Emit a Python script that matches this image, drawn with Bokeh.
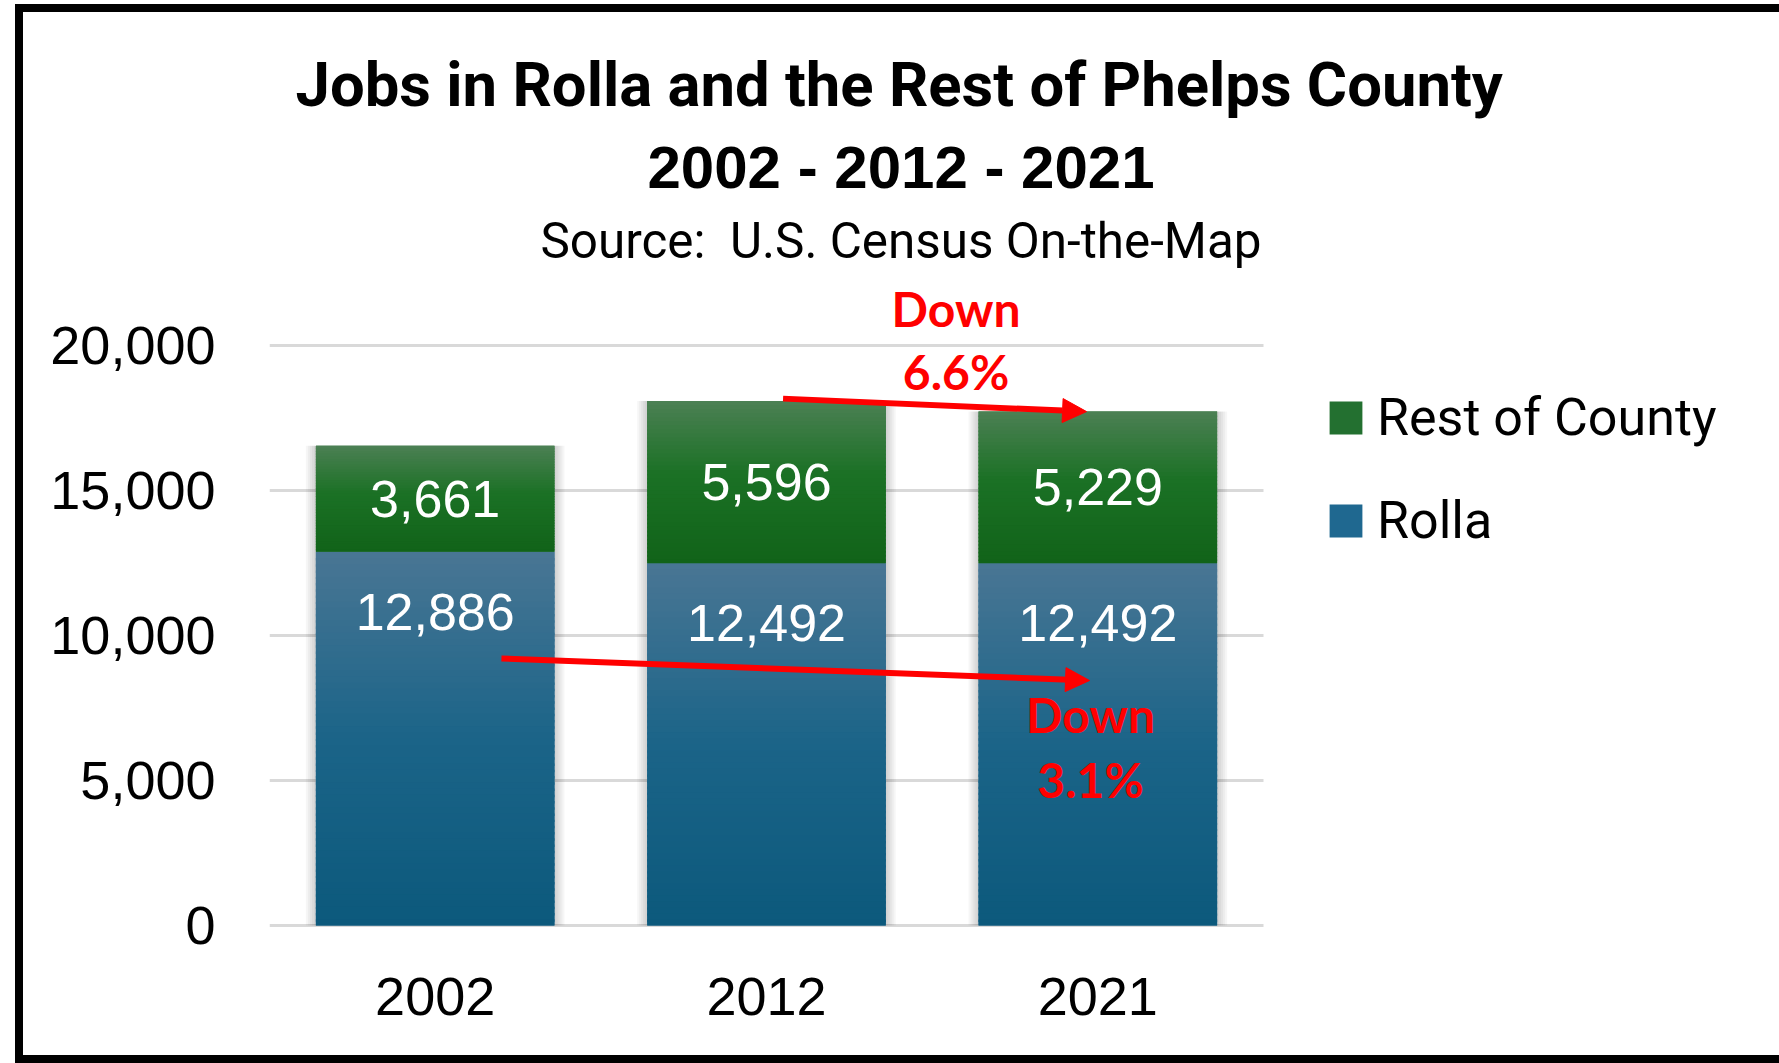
import numpy as np
from bokeh.plotting import figure
from bokeh.models import (ColumnDataSource, Range1d, FixedTicker, Legend, LegendItem,
                          Arrow, NormalHead, Title, NumeralTickFormatter)
from bokeh.core.properties import value
from bokeh.embed import file_html
from bokeh.resources import INLINE

# ---------------- data ----------------
years = ["2002", "2012", "2021"]
rolla = [12886, 12492, 12492]
rest_of_county = [3661, 5596, 5229]
series_names = ["Rest of County", "Rolla"]
y_ticks = [0, 5000, 10000, 15000, 20000]
title_line1 = "Jobs in Rolla and the Rest of Phelps County"
title_line2 = "2002 - 2012 - 2021"
subtitle = "Source:\u00a0 U.S. Census On-the-Map"
county_change = ["Down", "6.6%"]
rolla_change = ["Down", "3.1%"]

# ---------------- derived ----------------
n = len(years)
xs = [i + 0.5 for i in range(n)]
totals = [r + c for r, c in zip(rolla, rest_of_county)]
BAR_W = 0.72

GREEN_STOPS = [(0.0, (76, 128, 84)), (0.45, (27, 113, 37)), (1.0, (17, 99, 25))]
BLUE_STOPS = [(0.0, (73, 118, 148)), (0.5, (27, 100, 136)), (1.0, (12, 89, 124))]


def interp(stops, t):
    for (t0, c0), (t1, c1) in zip(stops[:-1], stops[1:]):
        if t <= t1:
            f = (t - t0) / (t1 - t0) if t1 > t0 else 0
            c = [round(a + (b - a) * f) for a, b in zip(c0, c1)]
            return "#%02x%02x%02x" % tuple(c)
    return "#%02x%02x%02x" % stops[-1][1]


def stripes(bottoms, tops, stops, N=48):
    d = dict(x=[], bottom=[], top=[], color=[])
    for x, b, t in zip(xs, bottoms, tops):
        h = t - b
        for k in range(N):
            st = t - h * k / N
            sb = max(b, t - h * (k + 1.4) / N)
            d["x"].append(x)
            d["top"].append(st)
            d["bottom"].append(sb)
            d["color"].append(interp(stops, (k + 0.5) / N))
    return ColumnDataSource(d)


W, H = 1764, 1043
FRAME_L, FRAME_T, FRAME_B = 246, 260, 922
PLOT_R = 1240                      # where the category area (and gridlines) ends
X_END = n * (W - FRAME_L) / (PLOT_R - FRAME_L)
Y_START, Y_END = -310, 22517

p = figure(width=W, height=H, output_backend="svg", toolbar_location=None,
           x_range=Range1d(0, X_END), y_range=Range1d(Y_START, Y_END),
           min_border_left=FRAME_L, min_border_right=0, min_border_top=FRAME_T,
           min_border_bottom=H - FRAME_B, title=title_line1)
# outer black frame (left, top, bottom) drawn around the figure's box
p.styles = {"position": "absolute", "left": "23px", "top": "12px",
            "box-shadow": "-8px 0 0 0 black, 0 -8px 0 0 black, 0 8px 0 0 black, "
                          "-8px -8px 0 0 black, -8px 8px 0 0 black"}

p.background_fill_color = "white"
p.border_fill_color = "white"
p.outline_line_color = None

# titles: p.title is outermost; the first added sits closest to the frame
p.title.text_font = "Roboto"
p.title.text_font_size = "61.6px"
p.title.text_font_style = "bold"
p.title.text_color = "black"
p.title.align = "left"
p.title.offset = 26
p.title.standoff = 11
t3 = Title(text=subtitle, text_font="Roboto", text_font_size="49.4px",
           text_font_style="normal", text_color="black", align="left", offset=271, standoff=6)
p.add_layout(t3, "above")
t2 = Title(text=title_line2, text_font="Liberation Sans", text_font_size="60px",
           text_font_style="bold", text_color="black", align="left", offset=378, standoff=11)
p.add_layout(t2, "above")

# axes
p.yaxis.ticker = FixedTicker(ticks=y_ticks)
p.yaxis.formatter = NumeralTickFormatter(format="0,0")
p.xaxis.ticker = FixedTicker(ticks=xs)
p.xaxis.major_label_overrides = {x: y for x, y in zip(xs, years)}
for ax in (p.xaxis, p.yaxis):
    ax.axis_line_color = None
    ax.major_tick_line_color = None
    ax.minor_tick_line_color = None
    ax.major_label_text_font = "Liberation Sans"
    ax.major_label_text_font_size = "54px"
    ax.major_label_text_color = "black"
p.yaxis.major_label_standoff = 48
p.xaxis.major_label_standoff = 37

p.xgrid.visible = False
p.ygrid.grid_line_color = "#d9d9d9"
p.ygrid.grid_line_width = 3

# blank out the gridlines to the right of the category area (legend region)
p.quad(left=[n], right=[X_END], bottom=[Y_START], top=[Y_END],
       fill_color="white", line_color=None)

# shadows
px = n / (PLOT_R - FRAME_L)
for k in range(1, 6):
    p.vbar(x=xs, width=BAR_W + 2 * k * 2 * px, bottom=0, top=totals,
           fill_color="black", fill_alpha=0.035, line_color=None)

# base bars (legend)
src = ColumnDataSource(dict(x=xs, rolla=rolla, total=totals))
b_base = p.vbar(x="x", width=BAR_W, bottom=0, top="rolla", source=src,
                fill_color="#1f6890", line_color=None)
g_base = p.vbar(x="x", width=BAR_W, bottom="rolla", top="total", source=src,
                fill_color="#237030", line_color=None)

# gradient fills
p.vbar(x="x", width=BAR_W, bottom="bottom", top="top", fill_color="color",
       line_color=None, source=stripes([0] * n, rolla, BLUE_STOPS, N=60))
p.vbar(x="x", width=BAR_W, bottom="bottom", top="top", fill_color="color",
       line_color=None, source=stripes(rolla, totals, GREEN_STOPS, N=40))

# data labels
lab = ColumnDataSource(dict(
    x=xs,
    y_rest=[(r + t) / 2 for r, t in zip(rolla, totals)],
    y_rolla=rolla,
    t_rest=[f"{v:,}" for v in rest_of_county],
    t_rolla=[f"{v:,}" for v in rolla]))
p.text(x="x", y="y_rest", text="t_rest", source=lab, text_align="center",
       text_baseline="middle", text_font=value("Liberation Sans"),
       text_font_size="52px", text_color="white")
p.text(x="x", y="y_rolla", text="t_rolla", source=lab, text_align="center",
       text_baseline="middle", y_offset=60, text_font=value("Liberation Sans"),
       text_font_size="52px", text_color="white")

# arrows
p.add_layout(Arrow(end=NormalHead(size=24, fill_color="red", line_color="red", line_width=1),
                   x_start=xs[1] + 0.05, y_start=totals[1] + 80,
                   x_end=xs[2] - 0.034, y_end=totals[2],
                   line_color="red", line_width=6))
p.add_layout(Arrow(end=NormalHead(size=24, fill_color="red", line_color="red", line_width=1),
                   x_start=0.70, y_start=9207, x_end=2.475, y_end=8448,
                   line_color="red", line_width=6))

# change annotations
p.text(x=[2.072, 2.072], y=[20552, 18379], text=county_change, text_align="center",
       text_baseline="alphabetic", y_offset=-21, text_font=value("Lato"),
       text_font_style="bold", text_font_size="48px", text_color="red")
p.text(x=[2.478, 2.478], y=[6655, 4414], text=rolla_change, text_align="center",
       text_baseline="alphabetic", y_offset=-18, text_font=value("Lato"),
       text_font_style="bold", text_font_size="48px", text_color="red")

# legend (inside the widened frame, right of the categories)
legend = Legend(items=[LegendItem(label=series_names[0], renderers=[g_base]),
                       LegendItem(label=series_names[1], renderers=[b_base])],
                location=(1302 - FRAME_L, 383), label_text_font="Roboto",
                label_text_font_size="52px", label_text_color="black",
                glyph_width=41, glyph_height=41, label_standoff=11, spacing=42,
                padding=0, margin=0, border_line_color=None, background_fill_alpha=0)
p.add_layout(legend)

open("out.html", "w").write(file_html(p, INLINE))
